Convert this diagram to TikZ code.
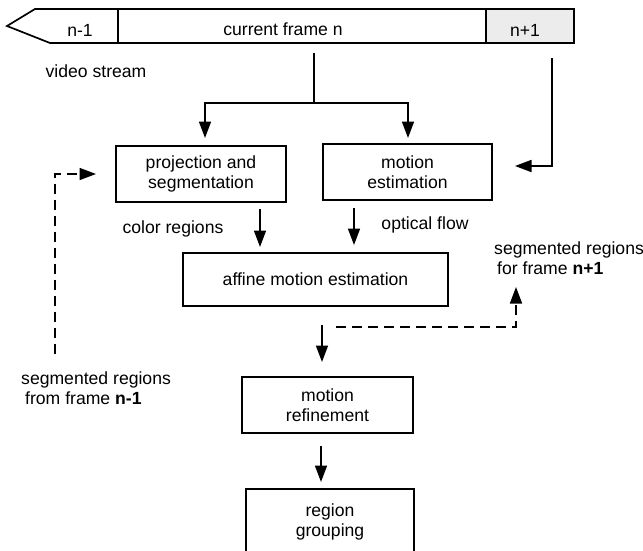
\documentclass[tikz,border=0pt]{standalone}
\usepackage{fontspec}
\setmainfont{Liberation Sans}
\usetikzlibrary{arrows.meta}
\begin{document}
\begin{tikzpicture}[x=1pt,y=-1pt,
  every node/.style={font=\fontsize{17.6}{20}\selectfont, inner sep=0pt},
  box/.style={draw, line width=1.7pt, align=center},
  ln/.style={line width=1.7pt},
  arr/.style={line width=1.7pt, -{Triangle[length=16.5pt,width=12pt]}},
  darr/.style={arr, dash pattern=on 10pt off 6pt},
  lbl/.style={align=left, anchor=west}]
\useasboundingbox (0,0) rectangle (643,550);
\clip (0,0) rectangle (643,550);

% video stream bar
\fill[gray!15] (486,9) rectangle (574,43);
\draw[ln, line join=miter] (7,26) -- (35,9) -- (574,9) -- (574,43) -- (50,43) -- cycle;
\draw[ln] (118,9) -- (118,43) (486,9) -- (486,43);
\node (prev) at (80,30) {n-1};
\node (cur) at (283,29) {current frame n};
\node (next) at (525,30) {n+1};
\node (vs) at (96,71) {video stream};

% boxes
\node[box, minimum width=170pt, minimum height=56pt] (proj) at (201,174) {projection and\\segmentation};
\node[box, minimum width=169pt, minimum height=56pt] (mest) at (407.5,172) {motion\\estimation};
\node[box, minimum width=265pt, minimum height=53pt] (aff) at (315.5,279.5) {affine motion estimation};
\node[box, minimum width=171pt, minimum height=56pt] (ref) at (327.5,405) {motion\\refinement};
\node[box, minimum width=168pt, minimum height=66pt] (grp) at (330,522) {region\\grouping};

% labels
\node (cr) at (173,229) {color regions};
\node (of) at (425,225) {optical flow};
\node[lbl] (segp) at (21,388) {segmented regions\\\hspace{4pt}from frame \textbf{n-1}};
\node[lbl] (segn) at (494,258) {segmented regions\\\hspace{3pt}for frame \textbf{n+1}};

% connectors from current frame
\coordinate (c0) at (314,53);
\coordinate (c1) at (314,103);
\coordinate (cl) at (205,103);
\coordinate (crr) at (408,103);
\coordinate (tl) at (205,138);
\coordinate (tr) at (408,138);
\draw[ln] (c0) -- (c1);
\draw[arr] (c1) -- (cl) -- (tl);
\draw[arr] (c1) -- (crr) -- (tr);

% from n+1
\coordinate (n0) at (552,58);
\coordinate (n1) at (552,166);
\coordinate (n2) at (515,166);
\draw[arr] (n0) -- (n1) -- (n2);

% from previous segmentation (dashed)
\coordinate (d0) at (55,354);
\coordinate (d1) at (55,174);
\coordinate (d2) at (96,174);
\draw[darr] (d0) -- (d1) -- (d2);

% into affine
\coordinate (p0) at (260,209);
\coordinate (p1) at (260,247);
\coordinate (m0) at (354,208);
\coordinate (m1) at (354,245);
\draw[arr] (p0) -- (p1);
\draw[arr] (m0) -- (m1);

% affine to refinement
\coordinate (a0) at (322,325);
\coordinate (a1) at (322,362);
\draw[arr] (a0) -- (a1);

% dashed to next frame
\coordinate (e0) at (336,327);
\coordinate (e1) at (516,327);
\coordinate (e2) at (516,287);
\draw[darr] (e0) -- (e1) -- (e2);

% refinement to grouping
\coordinate (r0) at (321,446);
\coordinate (r1) at (321,482);
\draw[arr] (r0) -- (r1);
\end{tikzpicture}
\end{document}
